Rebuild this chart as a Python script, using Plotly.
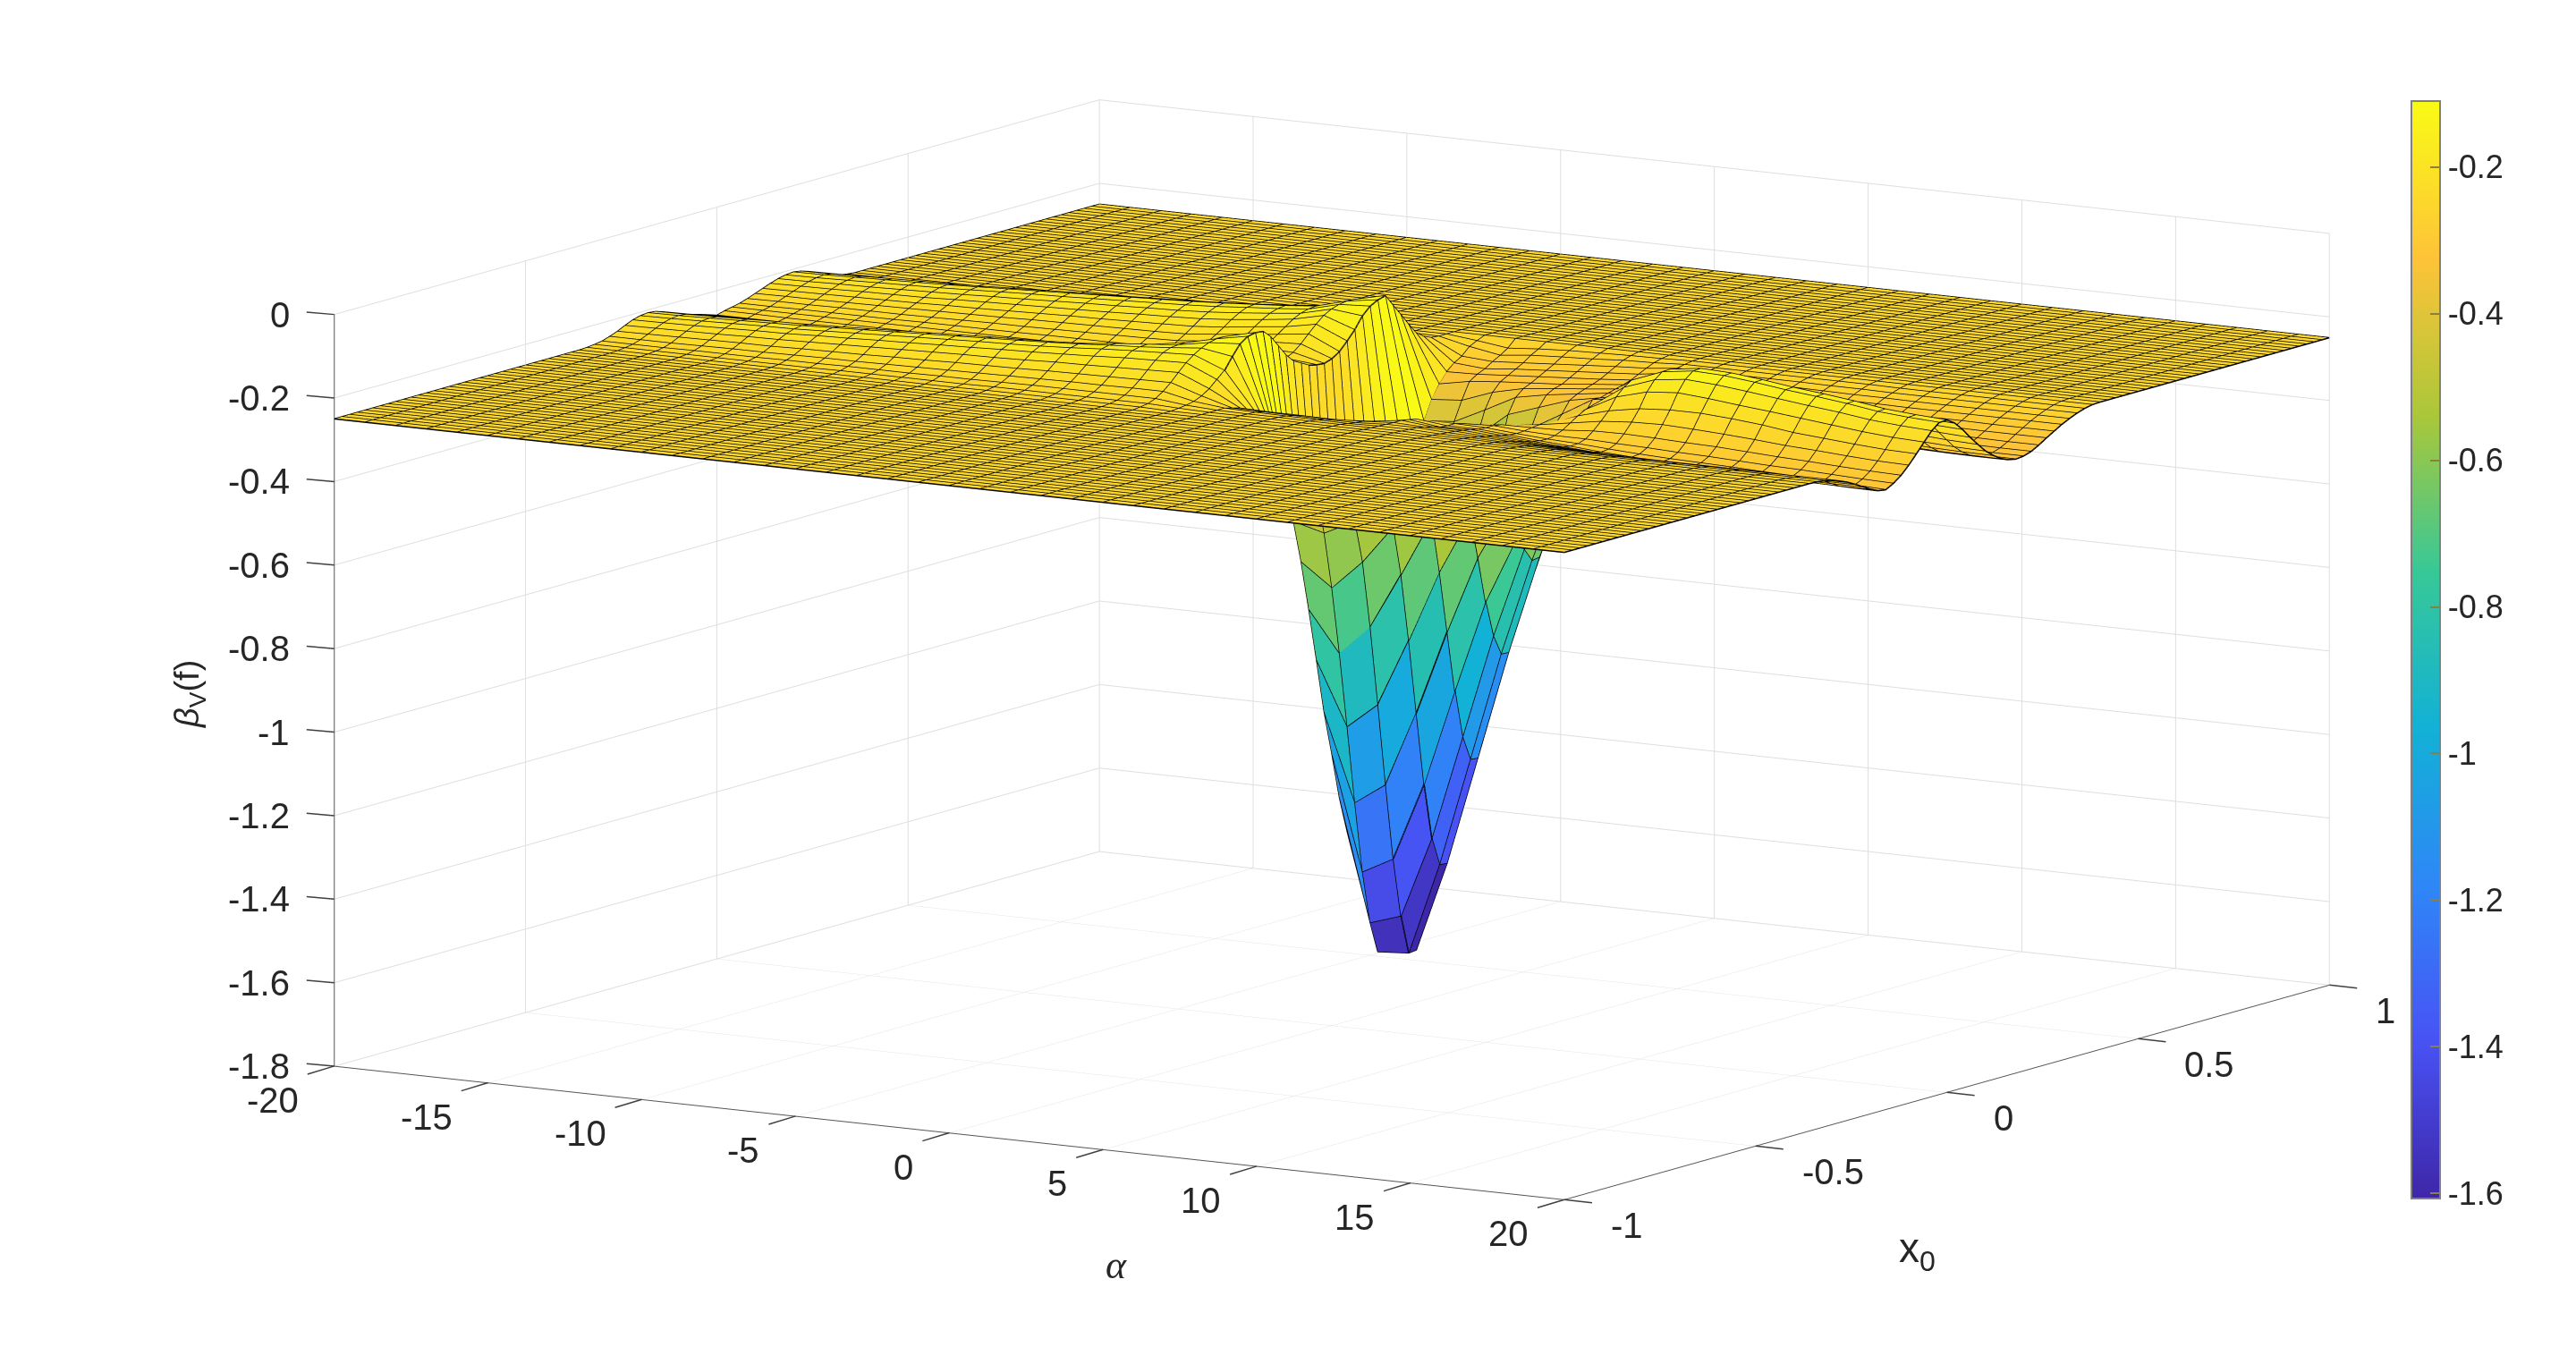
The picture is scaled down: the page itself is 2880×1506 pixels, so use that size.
import numpy as np
import plotly.graph_objects as go

# grid of the surface
alpha_values = list(range(-20, 21))
x0_values = [round(-1 + 0.02 * k, 2) for k in range(101)]
# the table below only covers x0 = -0.36 .. 0.38, everywhere else is the flat plateau
plateau = -0.25
table_x0_start = -0.36

# z * 1000, one list per alpha, x0 = -0.36, -0.34, ... 0.38
ridge_columns = [
    [-250,-249,-247,-244,-238,-231,-222,-214,-209,-207,-209,-215,-222,-229,-236,-242,-247,-253,-259,-254,-250,-246,-240,-233,-226,-219,-213,-209,-207,-210,-216,-223,-232,-239,-245,-248,-250,-250],
    [-250,-249,-247,-244,-238,-230,-221,-213,-208,-206,-208,-214,-221,-229,-236,-242,-247,-253,-259,-254,-250,-246,-239,-232,-225,-218,-212,-208,-206,-209,-215,-223,-232,-239,-245,-248,-250,-250],
    [-250,-249,-247,-244,-238,-229,-220,-212,-206,-204,-206,-212,-220,-228,-235,-242,-247,-253,-259,-255,-250,-245,-239,-232,-224,-217,-210,-206,-204,-207,-213,-221,-231,-238,-244,-248,-250,-250],
    [-250,-249,-247,-243,-237,-228,-219,-210,-204,-202,-204,-211,-218,-227,-235,-241,-247,-253,-259,-255,-250,-245,-238,-231,-223,-215,-209,-204,-202,-205,-212,-220,-230,-238,-244,-248,-250,-250],
    [-250,-249,-247,-243,-236,-227,-217,-208,-202,-200,-202,-209,-217,-226,-234,-241,-247,-253,-259,-255,-250,-245,-238,-230,-222,-214,-207,-202,-200,-203,-210,-219,-229,-237,-244,-248,-250,-250],
    [-250,-249,-247,-243,-236,-227,-216,-207,-201,-198,-201,-207,-216,-225,-233,-241,-247,-253,-259,-255,-250,-245,-238,-229,-221,-213,-205,-200,-198,-202,-208,-218,-228,-237,-244,-248,-249,-250],
    [-250,-249,-247,-242,-235,-225,-214,-204,-198,-195,-198,-205,-214,-224,-232,-240,-247,-253,-259,-255,-250,-244,-237,-228,-219,-210,-203,-197,-195,-199,-206,-216,-227,-236,-243,-248,-249,-250],
    [-250,-249,-247,-242,-234,-224,-212,-202,-195,-192,-195,-202,-212,-222,-231,-240,-247,-253,-259,-255,-250,-244,-236,-227,-218,-208,-200,-194,-192,-196,-204,-214,-226,-235,-243,-248,-249,-250],
    [-250,-249,-246,-241,-234,-223,-210,-199,-192,-189,-192,-200,-210,-221,-230,-239,-246,-253,-259,-255,-250,-244,-235,-226,-216,-206,-198,-191,-189,-193,-201,-212,-224,-235,-243,-248,-249,-250],
    [-250,-249,-246,-241,-233,-221,-208,-197,-189,-186,-189,-198,-208,-219,-230,-238,-246,-253,-258,-255,-250,-244,-235,-224,-214,-204,-195,-189,-186,-190,-199,-210,-223,-234,-242,-247,-249,-250],
    [-250,-249,-246,-241,-232,-220,-206,-194,-186,-183,-186,-195,-206,-218,-229,-238,-246,-253,-258,-254,-250,-243,-234,-223,-212,-202,-192,-186,-183,-188,-196,-208,-222,-233,-242,-247,-249,-250],
    [-250,-249,-246,-240,-231,-218,-204,-192,-183,-180,-183,-193,-204,-216,-228,-237,-246,-252,-257,-253,-250,-243,-233,-222,-211,-200,-190,-183,-180,-185,-194,-207,-221,-232,-242,-247,-249,-250],
    [-250,-249,-246,-240,-230,-217,-203,-189,-181,-177,-181,-190,-202,-215,-227,-237,-245,-252,-256,-252,-249,-243,-232,-221,-209,-197,-187,-180,-177,-182,-192,-205,-219,-232,-241,-247,-249,-250],
    [-250,-248,-245,-239,-229,-216,-201,-187,-178,-174,-178,-188,-200,-213,-226,-236,-244,-251,-254,-250,-248,-242,-231,-220,-207,-195,-185,-177,-174,-179,-189,-203,-218,-231,-241,-247,-249,-250],
    [-250,-248,-245,-238,-228,-214,-198,-184,-174,-170,-174,-184,-197,-211,-224,-234,-243,-249,-251,-248,-246,-240,-229,-218,-205,-192,-181,-173,-170,-175,-186,-201,-216,-230,-240,-247,-249,-250],
    [-250,-248,-245,-238,-227,-213,-197,-181,-169,-165,-166,-175,-189,-204,-218,-229,-238,-243,-243,-240,-237,-231,-222,-211,-199,-186,-175,-167,-165,-170,-182,-197,-214,-229,-240,-246,-249,-250],
    [-250,-248,-245,-238,-227,-212,-195,-177,-165,-161,-160,-165,-177,-192,-207,-220,-231,-236,-236,-234,-230,-224,-214,-203,-190,-178,-168,-162,-160,-164,-176,-192,-210,-227,-239,-246,-249,-250],
    [-250,-248,-245,-238,-226,-211,-193,-175,-162,-155,-153,-153,-160,-175,-192,-208,-221,-230,-232,-230,-225,-218,-208,-195,-182,-169,-160,-155,-153,-157,-170,-188,-208,-226,-239,-246,-249,-250],
    [-250,-248,-245,-238,-226,-210,-191,-173,-159,-148,-140,-136,-136,-148,-168,-190,-208,-220,-228,-232,-229,-220,-205,-186,-168,-152,-142,-136,-133,-134,-152,-178,-203,-224,-238,-246,-249,-250],
    [-250,-250,-248,-246,-242,-234,-222,-205,-188,-160,-135,-122,-118,-120,-138,-165,-192,-212,-222,-232,-236,-238,-232,-220,-200,-178,-150,-132,-122,-117,-145,-172,-200,-226,-240,-248,-250,-250],
]
well_columns = [
    [-250,-250,-250,-250,-250,-255,-260,-270,-280,-300,-330,-380,-460,-566,-668,-787,-913,-1043,-1147,-1259,-1344,-1380,-1300,-1180,-1050,-920,-800,-680,-570,-475,-414,-368,-336,-312,-296,-285,-267,-258],
    [-250,-250,-250,-251,-252,-256,-262,-272,-290,-310,-340,-400,-490,-586,-722,-885,-1065,-1252,-1423,-1550,-1625,-1570,-1440,-1290,-1120,-960,-810,-670,-550,-450,-408,-362,-322,-310,-302,-290,-280,-268],
    [-250,-250,-250,-251,-253,-257,-262,-272,-285,-300,-330,-380,-460,-550,-652,-814,-1004,-1201,-1384,-1526,-1620,-1618,-1480,-1310,-1130,-950,-790,-640,-510,-430,-372,-335,-315,-305,-295,-285,-272,-262],
    [-250,-250,-251,-252,-254,-258,-263,-270,-280,-295,-320,-360,-420,-480,-560,-680,-843,-1022,-1198,-1332,-1400,-1402,-1300,-1150,-990,-830,-680,-550,-450,-370,-334,-318,-310,-300,-290,-280,-268,-258],
    [-250,-250,-251,-252,-255,-258,-260,-265,-272,-280,-295,-315,-345,-390,-450,-540,-670,-819,-966,-1082,-1140,-1142,-1060,-940,-810,-680,-560,-460,-390,-345,-320,-310,-305,-295,-285,-275,-265,-256],
    [-250,-250,-251,-252,-253,-254,-255,-255,-258,-262,-272,-285,-305,-335,-380,-445,-530,-633,-745,-832,-880,-881,-820,-730,-630,-530,-440,-370,-348,-320,-310,-303,-297,-290,-280,-270,-260,-254],
    [-250,-250,-251,-252,-253,-254,-258,-262,-268,-270,-270,-275,-285,-300,-330,-370,-430,-500,-587,-617,-648,-645,-600,-540,-470,-400,-345,-332,-305,-306,-300,-295,-290,-284,-275,-266,-258,-253],
]
hill_columns = [
    [-250,-251,-252,-254,-256,-258,-260,-263,-266,-270,-272,-272,-275,-282,-295,-315,-345,-385,-420,-440,-445,-440,-420,-385,-345,-320,-305,-298,-294,-291,-288,-283,-278,-272,-265,-258,-254,-251],
    [-250,-251,-252,-254,-257,-260,-264,-268,-272,-276,-278,-277,-274,-272,-276,-285,-300,-318,-332,-340,-342,-338,-328,-315,-305,-300,-298,-296,-294,-292,-289,-284,-278,-272,-265,-258,-254,-251],
    [-250,-251,-253,-255,-259,-263,-268,-273,-278,-282,-283,-280,-272,-260,-248,-238,-232,-230,-233,-240,-250,-262,-275,-286,-294,-300,-304,-305,-303,-299,-294,-287,-280,-273,-266,-259,-254,-251],
    [-250,-251,-253,-256,-260,-265,-271,-277,-283,-287,-286,-280,-266,-248,-228,-200,-182,-170,-172,-186,-206,-238,-258,-276,-290,-300,-306,-308,-306,-302,-296,-288,-281,-273,-266,-259,-254,-251],
    [-250,-251,-253,-256,-261,-267,-274,-281,-288,-293,-291,-283,-265,-242,-215,-180,-156,-142,-141,-156,-178,-215,-240,-264,-284,-298,-308,-312,-310,-305,-298,-290,-282,-274,-266,-259,-254,-251],
    [-250,-251,-253,-257,-262,-268,-276,-284,-292,-297,-295,-285,-267,-240,-210,-174,-147,-132,-131,-147,-172,-206,-236,-262,-285,-301,-312,-317,-315,-310,-302,-293,-284,-275,-267,-260,-254,-251],
    [-250,-251,-253,-257,-262,-269,-277,-286,-294,-300,-298,-288,-270,-243,-210,-180,-152,-135,-134,-150,-174,-202,-234,-262,-286,-304,-316,-321,-319,-313,-305,-296,-286,-277,-268,-260,-254,-251],
    [-250,-251,-253,-257,-263,-270,-278,-287,-296,-302,-300,-290,-272,-247,-215,-188,-160,-143,-142,-157,-180,-205,-236,-264,-288,-306,-318,-323,-321,-315,-307,-297,-287,-277,-268,-261,-255,-251],
    [-250,-251,-253,-257,-263,-270,-279,-288,-297,-304,-302,-293,-276,-252,-222,-195,-169,-153,-152,-166,-188,-212,-241,-268,-291,-308,-320,-325,-323,-317,-308,-298,-288,-278,-269,-261,-255,-251],
    [-250,-251,-253,-257,-263,-271,-280,-290,-299,-306,-305,-296,-280,-258,-232,-203,-178,-161,-160,-173,-195,-221,-248,-273,-295,-311,-322,-327,-325,-319,-309,-299,-288,-278,-269,-261,-255,-251],
    [-250,-251,-253,-257,-263,-271,-280,-291,-301,-308,-307,-298,-283,-262,-238,-211,-186,-170,-169,-181,-202,-227,-253,-277,-298,-313,-323,-328,-326,-320,-310,-299,-288,-278,-269,-261,-255,-251],
    [-250,-251,-253,-257,-264,-272,-281,-292,-303,-310,-310,-301,-287,-267,-244,-219,-196,-181,-180,-192,-212,-236,-260,-283,-302,-316,-325,-329,-327,-321,-311,-300,-289,-278,-269,-261,-255,-251],
    [-250,-251,-253,-257,-264,-272,-282,-293,-304,-312,-313,-304,-290,-271,-249,-225,-202,-187,-186,-198,-218,-242,-265,-287,-304,-317,-326,-330,-328,-322,-312,-300,-289,-278,-269,-261,-255,-251],
    [-250,-251,-253,-257,-264,-272,-282,-293,-304,-313,-316,-306,-292,-273,-251,-228,-206,-191,-190,-202,-222,-246,-268,-289,-305,-318,-326,-330,-328,-322,-312,-300,-289,-278,-269,-261,-255,-251],
]

z_min, z_max = -1.607, -0.11
x_ticks = [-20, -15, -10, -5, 0, 5, 10, 15, 20]
y_ticks = [-1, -0.5, 0, 0.5, 1]
y_tick_text = ["-1", "-0.5", "0", "0.5", "1"]
z_ticks = [-1.8, -1.6, -1.4, -1.2, -1, -0.8, -0.6, -0.4, -0.2, 0]
z_tick_text = ["-1.8", "-1.6", "-1.4", "-1.2", "-1", "-0.8", "-0.6", "-0.4", "-0.2", "0"]
bar_ticks = [-1.6, -1.4, -1.2, -1, -0.8, -0.6, -0.4, -0.2]
bar_tick_text = ["-1.6", "-1.4", "-1.2", "-1", "-0.8", "-0.6", "-0.4", "-0.2"]

parula = [
    [0.0, "rgb(62,38,168)"], [0.143, "rgb(72,82,244)"], [0.286, "rgb(46,135,247)"],
    [0.429, "rgb(18,177,214)"], [0.571, "rgb(55,200,151)"], [0.714, "rgb(171,199,57)"],
    [0.857, "rgb(254,195,56)"], [1.0, "rgb(249,251,21)"],
]

table = np.array(ridge_columns + well_columns + hill_columns) / 1000.0
nx, ny = len(alpha_values), len(x0_values)
z = np.full((nx, ny), plateau)
start = x0_values.index(table_x0_start)
z[:, start:start + table.shape[1]] = table

X, Y = np.meshgrid(alpha_values, x0_values, indexing="ij")

# two triangles per cell, coloured by the cell's first corner like surf does
ii, jj, kk, cell_color = [], [], [], []
for a in range(nx - 1):
    for b in range(ny - 1):
        v00 = a * ny + b
        v10 = (a + 1) * ny + b
        v11 = (a + 1) * ny + b + 1
        v01 = a * ny + b + 1
        ii += [v00, v00]
        jj += [v10, v11]
        kk += [v11, v01]
        cell_color += [z[a, b], z[a, b]]

fig = go.Figure()
fig.add_trace(go.Mesh3d(
    x=X.ravel(), y=Y.ravel(), z=z.ravel(),
    i=ii, j=jj, k=kk,
    intensity=cell_color, intensitymode="cell",
    colorscale=parula, cmin=z_min, cmax=z_max,
    flatshading=True,
    lighting=dict(ambient=1, diffuse=0, specular=0, roughness=1, fresnel=0),
    hoverinfo="skip",
    colorbar=dict(
        x=2688 / 2880, xanchor="left", xpad=0,
        y=1 - 718.5 / 1506, yanchor="middle", ypad=0,
        len=1227 / 1506, lenmode="fraction",
        thickness=32, thicknessmode="pixels",
        outlinewidth=2, outlinecolor="#7f7f7f",
        ticks="inside", ticklen=12, tickcolor="#8a7f40", tickwidth=2,
        tickvals=bar_ticks, ticktext=bar_tick_text,
        tickfont=dict(family="Liberation Sans", size=36, color="#262626"),
    ),
))

# mesh lines
line_x, line_y, line_z = [], [], []
for a in range(nx):
    line_x += list(X[a, :]) + [None]
    line_y += list(Y[a, :]) + [None]
    line_z += list(z[a, :]) + [None]
for b in range(ny):
    line_x += list(X[:, b]) + [None]
    line_y += list(Y[:, b]) + [None]
    line_z += list(z[:, b]) + [None]
fig.add_trace(go.Scatter3d(
    x=line_x, y=line_y, z=line_z, mode="lines",
    line=dict(color="black", width=3),
    hoverinfo="skip", showlegend=False,
))

axis_style = dict(
    showbackground=False, showgrid=True, gridcolor="#dedede", gridwidth=2,
    showline=True, linecolor="#555555", linewidth=2,
    showticklabels=False, ticks="",
    zeroline=False, showspikes=False, title=dict(text=""),
)


# the gl tick labels can't be placed like matlab's, so ticks and labels are scene annotations
def tick_notes(xs, ys, zs, texts, tick_dx, tick_dy, anchor, shift_x, shift_y):
    tick_font = dict(family="Liberation Sans", size=40, color="#262626")
    notes = []
    for px, py, pz, label in zip(xs, ys, zs, texts):
        notes.append(dict(x=px, y=py, z=pz, text=" ", showarrow=True, arrowhead=0, arrowwidth=1.5,
                          arrowcolor="#404040", ax=tick_dx, ay=tick_dy, standoff=0, startstandoff=0))
        notes.append(dict(x=px, y=py, z=pz, text=label, showarrow=False, font=tick_font,
                          xanchor=anchor, yanchor="middle", xshift=shift_x, yshift=shift_y))
    return notes


# annotations sitting exactly on the lower z limit get dropped, so keep them a hair inside
floor_z = -1.7995
x_notes = tick_notes(x_ticks, [-1] * len(x_ticks), [floor_z] * len(x_ticks), [str(t) for t in x_ticks],
                     -33, 10, "right", -38, -38)
y_notes = tick_notes([20] * len(y_ticks), y_ticks, [floor_z] * len(y_ticks), y_tick_text,
                     34, 4, "left", 50, -29)
z_notes = tick_notes([-20] * len(z_ticks), [-1] * len(z_ticks), [floor_z] + z_ticks[1:], z_tick_text,
                     -34, -3, "right", -48, 0)

fig.update_layout(
    width=2880, height=1506,
    margin=dict(l=0, r=0, t=0, b=0),
    paper_bgcolor="white",
    font=dict(family="Liberation Sans", color="#262626"),
    scene=dict(
        domain=dict(x=[0.0285, 1], y=[0.0458, 1]),
        aspectmode="manual",
        aspectratio=dict(x=2.254, y=2.254, z=1.188),
        xaxis=dict(axis_style, range=[-20, 20], tickvals=x_ticks),
        yaxis=dict(axis_style, range=[-1, 1], tickvals=y_ticks),
        zaxis=dict(axis_style, range=[-1.8, 0], tickvals=z_ticks),
        camera=dict(
            projection=dict(type="orthographic"),
            eye=dict(x=0.520 * 4, y=-0.836 * 4, z=0.1745 * 4),
            center=dict(x=0, y=0, z=0),
            up=dict(x=0, y=0, z=1),
        ),
        annotations=x_notes + y_notes + z_notes,
    ),
    annotations=[
        dict(text="<i>α</i>", x=1240 / 2880, y=1 - 1406 / 1506, xref="paper", yref="paper",
             xanchor="center", yanchor="middle",
             showarrow=False, font=dict(family="Liberation Serif", size=44, color="#262626")),
        dict(text="x<sub>0</sub>", x=2135 / 2880, y=1 - 1390 / 1506, xref="paper", yref="paper",
             xanchor="center", yanchor="middle",
             showarrow=False, font=dict(family="Liberation Sans", size=46, color="#262626")),
        dict(text="<i>β</i><sub>V</sub>(f)", x=204 / 2880, y=1 - 768 / 1506, xref="paper", yref="paper",
             xanchor="center", yanchor="middle",
             textangle=-90, showarrow=False, font=dict(family="Liberation Sans", size=38, color="#262626")),
    ],
)

fig.write_html("out.html")
